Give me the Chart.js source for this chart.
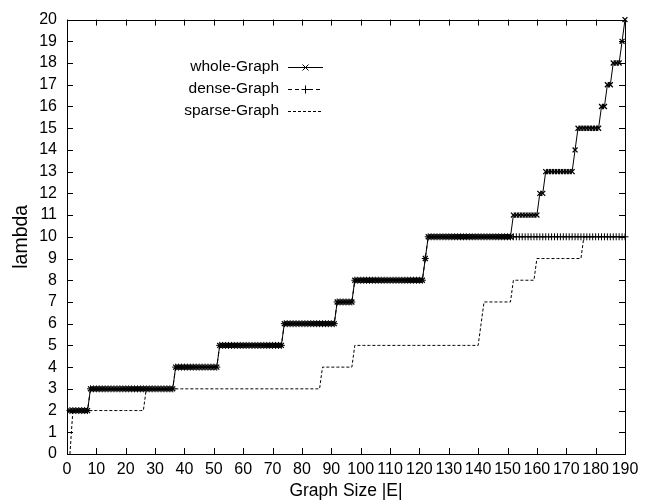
<!DOCTYPE html>
<html>
<head>
<meta charset="utf-8">
<script src="https://cdn.jsdelivr.net/npm/chart.js@4.4.0/dist/chart.umd.min.js"></script>
<style>
  html, body { margin: 0; padding: 0; background: #fff; }
  #wrap { width: 662px; height: 504px; position: relative; }
</style>
</head>
<body>
<div id="wrap"><canvas id="chart-lambda"></canvas></div>
<script>
// graph size |E| on the x axis
var graphSizes = Array.from({ length: 190 }, function (_, i) { return i + 1; });

// lambda of the whole graph, one value per |E| (1..190)
var wholeGraph = [
  2,2,2,2,2,2,2,
  3,3,3,3,3,3,3,3,3,3, 3,3,3,3,3,3,3,3,3,3, 3,3,3,3,3,3,3,3,3,
  4,4,4,4,4,4,4,4,4,4, 4,4,4,4,4,
  5,5,5,5,5,5,5,5,5,5, 5,5,5,5,5,5,5,5,5,5, 5,5,
  6,6,6,6,6,6,6,6,6,6, 6,6,6,6,6,6,6,6,
  7,7,7,7,7,7,
  8,8,8,8,8,8,8,8,8,8, 8,8,8,8,8,8,8,8,8,8, 8,8,8,8,
  9,
  10,10,10,10,10,10,10,10,10,10, 10,10,10,10,10,10,10,10,10,10, 10,10,10,10,10,10,10,10,10,
  11,11,11,11,11,11,11,11,11,
  12,12,
  13,13,13,13,13,13,13,13,13,13,
  14,
  15,15,15,15,15,15,15,15,
  16,16,
  17,17,
  18,18,18,
  19,
  20
];

// lambda of the dense part
var denseGraph = [
  2,2,2,2,2,2,2,
  3,3,3,3,3,3,3,3,3,3, 3,3,3,3,3,3,3,3,3,3, 3,3,3,3,3,3,3,3,3,
  4,4,4,4,4,4,4,4,4,4, 4,4,4,4,4,
  5,5,5,5,5,5,5,5,5,5, 5,5,5,5,5,5,5,5,5,5, 5,5,
  6,6,6,6,6,6,6,6,6,6, 6,6,6,6,6,6,6,6,
  7,7,7,7,7,7,
  8,8,8,8,8,8,8,8,8,8, 8,8,8,8,8,8,8,8,8,8, 8,8,8,8,
  9,
  10,10,10,10,10,10,10,10,10,10, 10,10,10,10,10,10,10,10,10,10, 10,10,10,10,10,10,10,10,10,
  10,10,10,10,10,10,10,10,10,10, 10,10,10,10,10,10,10,10,10,10,
  10,10,10,10,10,10,10,10,10,10, 10,10,10,10,10,10,10,10,10
];

// lambda of the sparse part
var sparseGraph = [
  0,
  2,2,2,2,2,2,2,2,2,2, 2,2,2,2,2,2,2,2,2,2, 2,2,2,2,2,
  3,3,3,3,3,3,3,3,3,3, 3,3,3,3,3,3,3,3,3,3, 3,3,3,3,3,3,3,3,3,3,
  3,3,3,3,3,3,3,3,3,3, 3,3,3,3,3,3,3,3,3,3, 3,3,3,3,3,3,3,3,3,3,
  4,4,4,4,4,4,4,4,4,4, 4,
  5,5,5,5,5,5,5,5,5,5, 5,5,5,5,5,5,5,5,5,5, 5,5,5,5,5,5,5,5,5,5,
  5,5,5,5,5,5,5,5,5,5, 5,5,5,
  6,
  7,7,7,7,7,7,7,7,7,7,
  8,8,8,8,8,8,8,8,
  9,9,9,9,9,9,9,9,9,9, 9,9,9,9,9,9,
  10,10,10,10,10,10,10,10,10,10, 10,10,10,10,10
];

var seriesNames = ['whole-Graph', 'dense-Graph', 'sparse-Graph'];

var FONT = "'Liberation Sans', Arial, sans-serif";
var TICK_FONT = "'Liberation Sans Narrow', 'Arial Narrow', 'Liberation Sans', sans-serif";

function toPoints(values) {
  return values.map(function (v, i) { return { x: graphSizes[i], y: v }; });
}

// gnuplot style frame with inward ticks on all four sides
var framePlugin = {
  id: 'frame',
  beforeDatasetsDraw: function (chart) {
    var ctx = chart.ctx, a = chart.chartArea;
    var xs = chart.scales.x, ys = chart.scales.y;
    var len = 6;
    ctx.save();
    ctx.strokeStyle = '#000';
    ctx.lineWidth = 1;
    ctx.beginPath();
    xs.ticks.forEach(function (t) {
      var px = Math.round(xs.getPixelForValue(t.value)) + 0.5;
      ctx.moveTo(px, a.bottom); ctx.lineTo(px, a.bottom - len);
      ctx.moveTo(px, a.top); ctx.lineTo(px, a.top + len);
    });
    ys.ticks.forEach(function (t) {
      var py = Math.round(ys.getPixelForValue(t.value)) + 0.5;
      ctx.moveTo(a.left, py); ctx.lineTo(a.left + len, py);
      ctx.moveTo(a.right, py); ctx.lineTo(a.right - len, py);
    });
    ctx.stroke();
    ctx.strokeRect(Math.round(a.left) + 0.5, Math.round(a.top) + 0.5,
      Math.round(a.right - a.left), Math.round(a.bottom - a.top));
    ctx.restore();
  },
  afterDraw: function (chart) {
    // key, top left inside the plot
    var ctx = chart.ctx;
    var textRight = 279, x0 = 288, x1 = 323, ys = [67, 89, 111];
    var dashes = [[], [4, 3], [3, 2]];
    ctx.save();
    ctx.font = '15.5px ' + FONT;
    ctx.fillStyle = '#000';
    ctx.strokeStyle = '#000';
    ctx.lineWidth = 1;
    ctx.textAlign = 'right';
    ctx.textBaseline = 'middle';
    seriesNames.forEach(function (name, i) {
      var y = ys[i] + 0.5;
      ctx.fillText(name, textRight, ys[i]);
      ctx.setLineDash(dashes[i]);
      ctx.beginPath();
      ctx.moveTo(x0, y); ctx.lineTo(x1, y);
      ctx.stroke();
      ctx.setLineDash([]);
      var cx = (x0 + x1) / 2, r = 3;
      ctx.beginPath();
      if (i === 0) {
        ctx.moveTo(cx - r, y - r); ctx.lineTo(cx + r, y + r);
        ctx.moveTo(cx - r, y + r); ctx.lineTo(cx + r, y - r);
      } else if (i === 1) {
        ctx.moveTo(cx - r - 1, y); ctx.lineTo(cx + r + 1, y);
        ctx.moveTo(cx, y - r - 1); ctx.lineTo(cx, y + r + 1);
      }
      ctx.stroke();
    });
    ctx.restore();
  }
};

var ctx = document.getElementById('chart-lambda').getContext('2d');
var myChart = new Chart(ctx, {
  type: 'line',
  data: {
    datasets: [{
      label: seriesNames[0],
      data: toPoints(wholeGraph),
      borderColor: '#000',
      backgroundColor: '#000',
      borderWidth: 1,
      pointStyle: 'crossRot',
      pointRadius: 3.5,
      pointBorderWidth: 1.3,
      tension: 0,
      fill: false,
      clip: false
    }, {
      label: seriesNames[1],
      data: toPoints(denseGraph),
      borderColor: '#000',
      backgroundColor: '#000',
      borderWidth: 1,
      borderDash: [4, 3],
      pointStyle: 'cross',
      pointRadius: 3.5,
      pointBorderWidth: 1,
      tension: 0,
      fill: false,
      clip: false
    }, {
      label: seriesNames[2],
      data: toPoints(sparseGraph),
      borderColor: '#000',
      borderWidth: 1,
      borderDash: [3, 2],
      pointRadius: 0,
      tension: 0,
      fill: false,
      clip: false
    }]
  },
  options: {
    responsive: true,
    maintainAspectRatio: false,
    animation: false,
    layout: { padding: { left: 0, right: 37, top: 12, bottom: 0 } },
    plugins: {
      legend: { display: false },
      tooltip: { enabled: false }
    },
    scales: {
      x: {
        type: 'linear',
        min: 0,
        max: 190,
        grid: { display: false, drawTicks: false },
        border: { display: false },
        ticks: {
          stepSize: 10,
          autoSkip: false,
          maxRotation: 0,
          padding: 6,
          color: '#000',
          font: { family: TICK_FONT, size: 16 }
        },
        title: {
          display: true,
          text: 'Graph Size |E|',
          color: '#000',
          font: { family: FONT, size: 17.5 },
          padding: { top: 0, bottom: 2 }
        },
        afterFit: function (scale) { scale.height = 50; }
      },
      y: {
        type: 'linear',
        min: 0,
        max: 20,
        grid: { display: false, drawTicks: false },
        border: { display: false },
        ticks: {
          stepSize: 1,
          autoSkip: false,
          padding: 10,
          color: '#000',
          font: { family: TICK_FONT, size: 16 }
        },
        title: {
          display: true,
          text: 'lambda',
          color: '#000',
          font: { family: FONT, size: 19.5 },
          padding: { top: 10, bottom: 0 }
        },
        afterFit: function (scale) { scale.width = 67; }
      }
    }
  },
  plugins: [framePlugin]
});
</script>
</body>
</html>
